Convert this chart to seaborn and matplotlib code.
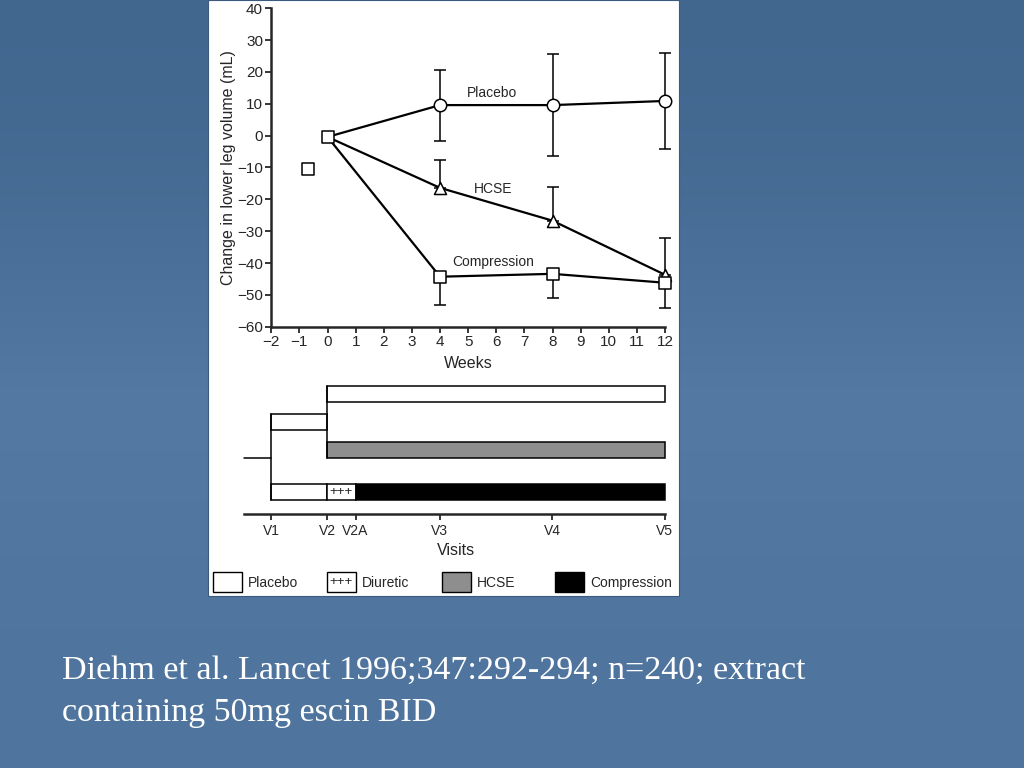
import numpy as np
import pandas as pd
import seaborn as sns
import matplotlib.pyplot as plt
from matplotlib.patches import Rectangle
from matplotlib.colors import LinearSegmentedColormap

# --- data ---
weeks = [0, 4, 8, 12]
placebo = [-0.4, 9.6, 9.6, 10.9]
placebo_hi = [20.7, 25.6, 26.0]
placebo_lo = [-1.6, -6.4, -4.2]
hcse = [-0.4, -16.4, -26.7, -43.7]
hcse_hi = [-7.5, -16.0, -32.0]
compression = [-0.4, -44.3, -43.4, -46.2]
compression_lo = [-53.1, -51.1, -54.1]
baseline_week = [-0.7, 0]
baseline_val = [-10.5, -0.4]

series_names = ['Placebo', 'HCSE', 'Compression']
label_pos = [(5.85, 13.3), (5.9, -16.8), (5.9, -39.6)]

visit_names = ['V1', 'V2', 'V2A', 'V3', 'V4', 'V5']
visit_weeks = [-2, 0, 1, 4, 8, 12]

legend_names = ['Placebo', 'Diuretic', 'HCSE', 'Compression']
legend_colors = ['white', 'white', '#8e8e8e', 'black']

sns.set_style('ticks')
plt.rcParams['font.family'] = ['Liberation Sans', 'DejaVu Sans']

W, H = 1024, 768
fig = plt.figure(figsize=(W / 100, H / 100), dpi=100)


def px(x0, y0, x1, y1):
    return [x0 / W, 1 - y1 / H, (x1 - x0) / W, (y1 - y0) / H]


# background slide
bg = fig.add_axes([0, 0, 1, 1])
grad = np.array([[0.0], [0.45], [1.0]])
cmap = LinearSegmentedColormap.from_list('slide', ['#42678f', '#5479a3', '#4f749e'])
bg.imshow(grad, aspect='auto', cmap=cmap, extent=[0, 1, 0, 1], interpolation='bicubic')
bg.add_patch(Rectangle((208 / W, 1 - 596 / H), 471 / W, 596 / H, facecolor='white',
                       edgecolor='#3a5a80', lw=0.8))
bg.set_xlim(0, 1)
bg.set_ylim(0, 1)
bg.axis('off')

# --- top panel ---
ax = fig.add_axes(px(271.3, 8.3, 665, 326.7))
ax.set_facecolor('none')
for vals in [placebo, hcse, compression]:
    sns.lineplot(x=weeks, y=vals, color='black', lw=1.6, ax=ax, zorder=2)

w = np.array(weeks[1:])
p = np.array(placebo[1:])
h = np.array(hcse[1:])
c = np.array(compression[1:])
eb = dict(fmt='none', ecolor='black', elinewidth=1.1, capsize=4, capthick=1.1, zorder=1)
for vals, err in [(p, [p - np.array(placebo_lo), np.array(placebo_hi) - p]),
                  (h, [np.zeros(3), np.array(hcse_hi) - h]),
                  (c, [c - np.array(compression_lo), np.zeros(3)])]:
    art = ax.errorbar(w, vals, yerr=err, **eb)
    for a in art.lines[1] + art.lines[2]:
        a.set_clip_on(False)

mk = dict(color='white', edgecolor='black', linewidth=1.1, ax=ax, zorder=3,
          legend=False, clip_on=False)
sns.scatterplot(x=w, y=p, marker='o', s=80, **mk)
sns.scatterplot(x=w, y=h, marker='^', s=75, **mk)
sns.scatterplot(x=w, y=c, marker='s', s=70, **mk)
sns.scatterplot(x=baseline_week, y=baseline_val, marker='s', s=70, **mk)

for name, (lx, ly) in zip(series_names, label_pos):
    ax.text(lx, ly, name, fontsize=10, ha='center', va='center')

ax.set_xlim(-2, 12)
ax.set_ylim(-60, 40)
ax.set_xticks(range(-2, 13))
ax.set_yticks(range(-60, 41, 10))
ax.tick_params(labelsize=11, length=4, width=1.3, pad=2)
ax.set_xlabel('Weeks', fontsize=11.5, labelpad=5)
ax.set_ylabel('Change in lower leg volume (mL)', fontsize=11.5, labelpad=1)
for s in ['top', 'right']:
    ax.spines[s].set_visible(False)
for s in ['left', 'bottom']:
    ax.spines[s].set_linewidth(1.8)

# --- study design panel ---
xl0 = (240 - 327.4) / 28.12
xl1 = (672 - 327.4) / 28.12
bx = fig.add_axes(px(240, 371.6, 672, 514))
bx.set_facecolor('none')
bh = 0.57
ek = dict(height=bh, edgecolor='black', linewidth=1.1)
bx.barh(0, 12, left=0, color='white', **ek)
bx.barh(1, 2, left=-2, color='white', **ek)
bx.barh(2, 12, left=0, color=legend_colors[2], **ek)
bx.barh(3.5, 2, left=-2, color='white', **ek)
bx.barh(3.5, 1, left=0, color='white', **ek)
bx.barh(3.5, 11, left=1, color='black', **ek)
bx.text(0.5, 3.5, '+++', fontsize=9.5, ha='center', va='center')
bx.plot([-2, -2], [1 - bh / 2, 3.5 + bh / 2], color='black', lw=1.1)
bx.plot([-2.96, -2], [2 + bh / 2, 2 + bh / 2], color='black', lw=1.1)
bx.plot([0, 0], [0 - bh / 2, 2 + bh / 2], color='black', lw=1.1)

bx.set_xlim(xl0, xl1)
bx.set_ylim(4.29, -0.8)
bx.set_xticks(visit_weeks)
bx.set_xticklabels(visit_names)
bx.set_yticks([])
bx.tick_params(axis='x', labelsize=10, length=4, width=1.3, pad=3)
bx.set_xlabel('Visits', fontsize=11.5, labelpad=4)
for s in ['top', 'right', 'left']:
    bx.spines[s].set_visible(False)
bx.spines['bottom'].set_linewidth(1.8)
bx.spines['bottom'].set_bounds(-2.96, 12)

# --- legend row ---
lg = fig.add_axes(px(208, 560, 679, 596))
lg.set_xlim(208, 679)
lg.set_ylim(596, 560)
lg.axis('off')
box_x = [213, 327, 442, 555]
for bxp, name, col in zip(box_x, legend_names, legend_colors):
    lg.add_patch(Rectangle((bxp, 572), 29, 20, facecolor=col, edgecolor='black', lw=1.0))
    lg.text(bxp + 35, 582.5, name, fontsize=10, va='center', ha='left')
lg.text(box_x[1] + 14.5, 581.5, '+++', fontsize=9.5, va='center', ha='center')

# --- caption ---
fig.text(62 / W, 1 - 679 / H, 'Diehm et al. Lancet 1996;347:292-294; n=240; extract',
         family='Liberation Serif', fontsize=24.5, color='white', va='baseline')
fig.text(62 / W, 1 - 721 / H, 'containing 50mg escin BID',
         family='Liberation Serif', fontsize=24.5, color='white', va='baseline')

fig.savefig('out.png', dpi=100)
